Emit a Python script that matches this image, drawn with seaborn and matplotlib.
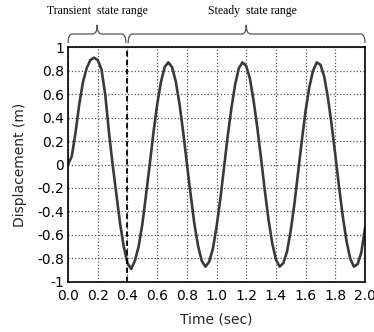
import numpy as np
import pandas as pd
import matplotlib
matplotlib.use('Agg')
import matplotlib.pyplot as plt
from matplotlib.path import Path
from matplotlib.patches import PathPatch
import seaborn as sns

# values (time step 0.025 s)
time_sec = [0.0, 0.025, 0.05, 0.075, 0.1, 0.125, 0.15, 0.175, 0.2, 0.225,
            0.25, 0.275, 0.3, 0.325, 0.35, 0.375, 0.4, 0.425, 0.45, 0.475,
            0.5, 0.525, 0.55, 0.575, 0.6, 0.625, 0.65, 0.675, 0.7, 0.725,
            0.75, 0.775, 0.8, 0.825, 0.85, 0.875, 0.9, 0.925, 0.95, 0.975,
            1.0, 1.025, 1.05, 1.075, 1.1, 1.125, 1.15, 1.175, 1.2, 1.225,
            1.25, 1.275, 1.3, 1.325, 1.35, 1.375, 1.4, 1.425, 1.45, 1.475,
            1.5, 1.525, 1.55, 1.575, 1.6, 1.625, 1.65, 1.675, 1.7, 1.725,
            1.75, 1.775, 1.8, 1.825, 1.85, 1.875, 1.9, 1.925, 1.95, 1.975,
            2.0]
displacement = [0.0, 0.07, 0.27, 0.51, 0.70, 0.82, 0.89, 0.91, 0.89, 0.81,
                0.60, 0.28, 0.0, -0.25, -0.50, -0.70, -0.84, -0.89, -0.82, -0.70,
                -0.51, -0.26, 0.0, 0.27, 0.51, 0.70, 0.83, 0.87, 0.83, 0.71,
                0.52, 0.28, 0.01, -0.25, -0.50, -0.69, -0.82, -0.87, -0.83, -0.72,
                -0.53, -0.30, -0.03, 0.24, 0.48, 0.68, 0.82, 0.87, 0.84, 0.73,
                0.54, 0.31, 0.05, -0.22, -0.47, -0.67, -0.81, -0.87, -0.84, -0.74,
                -0.56, -0.33, -0.06, 0.21, 0.46, 0.66, 0.80, 0.87, 0.85, 0.75,
                0.57, 0.34, 0.08, -0.19, -0.44, -0.65, -0.80, -0.87, -0.85, -0.75,
                -0.54]

x_ticks = [0.0, 0.2, 0.4, 0.6, 0.8, 1.0, 1.2, 1.4, 1.6, 1.8, 2.0]
y_ticks = [-1, -0.8, -0.6, -0.4, -0.2, 0, 0.2, 0.4, 0.6, 0.8, 1]
y_labels = ['-1', '-0.8', '-0.6', '-0.4', '-0.2', '0', '0.2', '0.4', '0.6', '0.8', '1']

split_t = 0.4
ranges = [('Transient  state range', 0.0, 0.39, 0.196, 0.198),
          ('Steady  state range', 0.405, 2.0, 1.2, 1.245)]


def brace(ax, x0, x1, xm, w=0.03):
    yb, yl, yt = 1.035, 1.112, 1.19
    verts = [(x0, yb), (x0, yl), (x0 + w, yl),
             (xm - w, yl),
             (xm, yl), (xm, yt),
             (xm, yl), (xm + w, yl),
             (x1 - w, yl),
             (x1, yl), (x1, yb)]
    codes = [Path.MOVETO, Path.CURVE3, Path.CURVE3,
             Path.LINETO,
             Path.CURVE3, Path.CURVE3,
             Path.CURVE3, Path.CURVE3,
             Path.LINETO,
             Path.CURVE3, Path.CURVE3]
    patch = PathPatch(Path(verts, codes), facecolor='none', edgecolor='#555555',
                      lw=0.9, clip_on=False)
    ax.add_patch(patch)


def main():
    sns.set_style('white')
    plt.rcParams['font.family'] = ['DejaVu Sans']

    df = pd.DataFrame({'t': time_sec, 'd': displacement})

    fig = plt.figure(figsize=(3.74, 3.32), dpi=100)
    ax = fig.add_axes([0.182, 0.151, 0.794, 0.707])

    sns.lineplot(data=df, x='t', y='d', ax=ax, color='#3a3a3a', lw=1.9)

    ax.axvline(split_t, color='black', ls='--', lw=1.3, dashes=(3, 2))

    ax.set_xlim(0, 2.0)
    ax.set_ylim(-1, 1)
    ax.set_xticks(x_ticks)
    ax.set_xticklabels([f'{v:.1f}' for v in x_ticks])
    ax.set_yticks(y_ticks)
    ax.set_yticklabels(y_labels)
    ax.tick_params(length=0, labelsize=10, colors='black')
    ax.tick_params(axis='x', pad=5)
    ax.tick_params(axis='y', pad=3)
    ax.grid(True, ls=':', color='#555555', lw=0.9)
    for sp in ax.spines.values():
        sp.set_color('black')
        sp.set_linewidth(1.2)

    ax.set_xlabel('Time (sec)', fontsize=10, labelpad=7)
    ax.set_ylabel('Displacement (m)', fontsize=10, labelpad=7)

    for label, x0, x1, xm, xt in ranges:
        brace(ax, x0, x1, xm)
        ax.text(xt, 1.31, label, ha='center', va='center', fontsize=8.5,
                family='Liberation Serif', color='black', clip_on=False)

    plt.savefig('out.png', dpi=100)


if __name__ == "__main__":
    main()
